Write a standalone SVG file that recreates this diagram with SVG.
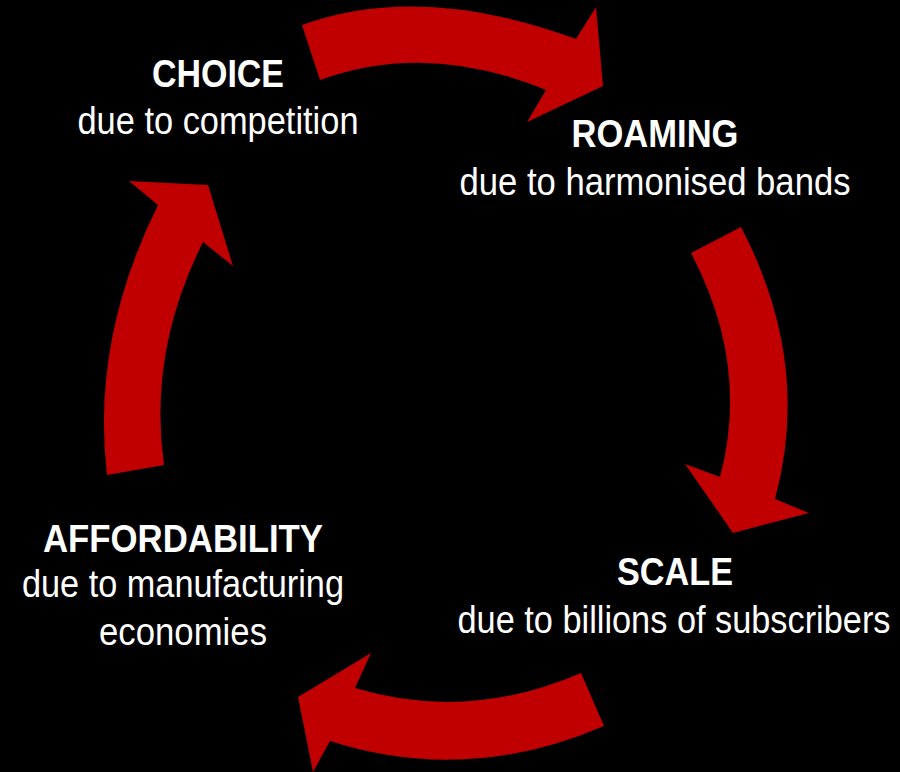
<svg xmlns="http://www.w3.org/2000/svg" width="900" height="772" viewBox="0 0 900 772">
<style>
.arrow{fill:#C00000}
.t{font-family:"Liberation Sans Narrow","Liberation Sans",Arial,sans-serif;font-size:38px;fill:#FFFFFF;text-anchor:middle}
.b{font-weight:bold}
</style>
<rect x="0" y="0" width="900" height="772" fill="#000000"/>
<g id="connectors">
<path class="arrow" d="M302,25 Q421,-18 576,39 L596,7 L603,86 L527,122 L546,90 Q427,41 320,80 Z"/>
<path class="arrow" d="M741,227 Q812,363 775,499 L809,513 L733,533 L685,464 L720,477 Q750,365 691,253 Z"/>
<path class="arrow" d="M604,726 Q467,785 330,741 L313,772 L298,697 L371,653 L355,688 Q468,722 581,673 Z"/>
<path class="arrow" d="M107,475 Q91,340 158,205 L129,181 L208,185 L233,266 L203,242 Q148,352 164,465 Z"/>
</g>
<g id="choice">
<text class="t b" x="218" y="87" textLength="132" lengthAdjust="spacingAndGlyphs">CHOICE</text>
<text class="t" x="218" y="134" textLength="281" lengthAdjust="spacingAndGlyphs">due to competition</text>
</g>
<g id="roaming">
<text class="t b" x="655" y="147" textLength="167" lengthAdjust="spacingAndGlyphs">ROAMING</text>
<text class="t" x="655" y="195" textLength="391" lengthAdjust="spacingAndGlyphs">due to harmonised bands</text>
</g>
<g id="scale">
<text class="t b" x="675" y="585" textLength="116" lengthAdjust="spacingAndGlyphs">SCALE</text>
<text class="t" x="674" y="633" textLength="433" lengthAdjust="spacingAndGlyphs">due to billions of subscribers</text>
</g>
<g id="affordability">
<text class="t b" x="183" y="552" textLength="280" lengthAdjust="spacingAndGlyphs">AFFORDABILITY</text>
<text class="t" x="183" y="597" textLength="322" lengthAdjust="spacingAndGlyphs">due to manufacturing</text>
<text class="t" x="183" y="645" textLength="168" lengthAdjust="spacingAndGlyphs">economies</text>
</g>
</svg>
